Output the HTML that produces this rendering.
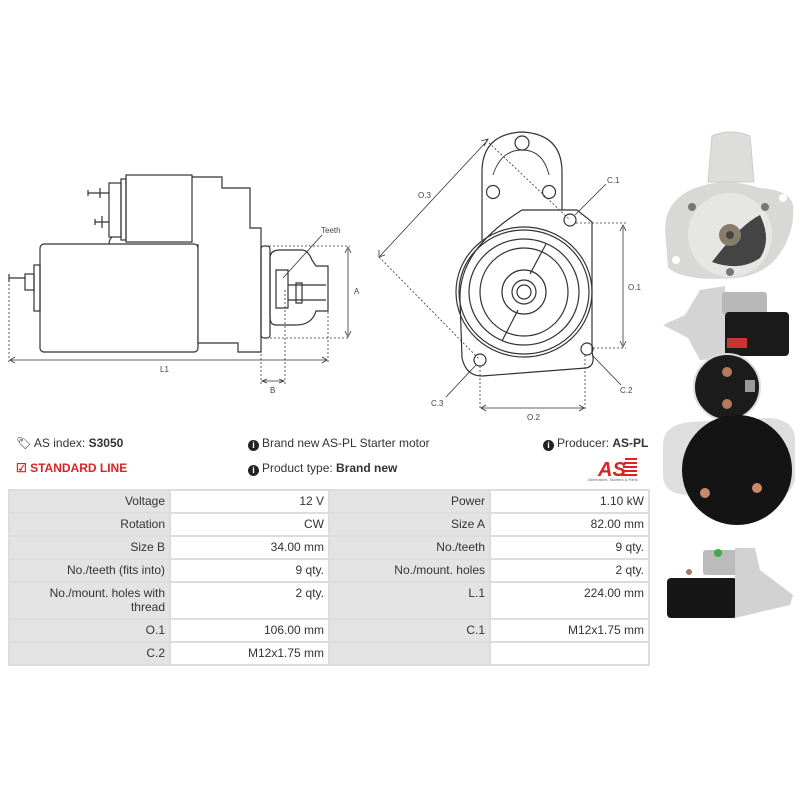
<!DOCTYPE html>
<html><head><style>
body{margin:0;background:#fff;width:800px;height:800px;overflow:hidden;position:relative;font-family:"Liberation Sans",sans-serif}
.t{position:absolute;font-size:12px;color:#333;white-space:nowrap}
.i{display:inline-block;width:11px;height:11px;border-radius:50%;background:#222;color:#fff;font-size:9px;font-weight:bold;text-align:center;line-height:11px;vertical-align:-1px;margin-right:3px}
table{position:absolute;left:8px;top:489px;border-collapse:collapse;font-size:12px;color:#333}
td{border:2px solid #ddd;text-align:right;padding:3px 4px 0 4px;vertical-align:top;height:18px;box-sizing:border-box}
td.l{background:#e3e3e3;width:161px}
td.v{background:#fff;width:159px}
</style></head><body>
<svg width="800" height="800" style="position:absolute;left:0;top:0" fill="none" stroke="#333" stroke-width="1.2" font-family="Liberation Sans" font-size="8">
<rect x="40" y="244" width="158" height="108" rx="4" fill="#fff"/>
<path d="M192 177 H222 V188 H250 V228 H261 V352 H238 V343 H198 V244" fill="#fff"/>
<rect x="126" y="175" width="66" height="67" fill="#fff"/>
<rect x="121" y="179" width="5" height="61"/>
<rect x="109" y="183" width="12" height="54"/>
<path d="M88 193 H109 M88 190 V196 M100 188 V198 M95 222 H109 M95 219 V225 M102 216 V228"/>
<path d="M112 237 q-3 3 -3 7"/>
<rect x="34" y="265" width="6" height="46"/>
<rect x="25" y="274" width="9" height="16"/>
<path d="M9 278 H25 M9 274 V282"/>
<rect x="261" y="246" width="9" height="92" rx="3"/>
<path d="M270 258 q0 -8 10 -8 h22 q6 0 10 10 l4 6 h12 v45 h-12 q-4 14 -20 14 h-20 q-6 0 -6 -8z"/>
<path d="M276 270 h12 v38 h-12z M288 285 h38 M288 300 h38 M296 283 h6 v20 h-6z"/>
<path stroke-dasharray="2,2" stroke-width="0.8" d="M265 246 H350 M270 338 H350 M9 284 V362 M328 312 V362 M261 338 V384 M285 290 V384"/>
<path stroke-width="0.8" d="M348 249 V335 M345 253 L348 247 L351 253 M345 331 L348 337 L351 331 M11 360 H326 M15 357 L10 360 L15 363 M322 357 L327 360 L322 363 M263 381 H283 M267 379 L262 381 L267 383 M279 379 L284 381 L279 383 M283 278 L322 235"/>
<g fill="#444" stroke="none" font-size="8"><text x="321" y="233">Teeth</text><text x="354" y="294">A</text><text x="160" y="372">L1</text><text x="270" y="393">B</text></g>
<path d="M482 240 V172 q0 -38 40 -40 q40 2 40 40 V215" fill="#fff"/>
<path d="M493 175 q8 -25 29 -25 q21 0 27 25" stroke-width="0.9"/>
<circle cx="522" cy="143" r="7"/><circle cx="493" cy="192" r="6.5"/><circle cx="549" cy="192" r="6.5"/>
<path d="M522 210 H577 L592 222 V352 Q596 366 586 368 L482 376 Q466 376 462 358 L460 300 Q458 250 522 210Z" fill="#fff"/>
<ellipse cx="524" cy="292" rx="68" ry="65"/>
<ellipse cx="524" cy="292" rx="65" ry="62"/>
<ellipse cx="524" cy="292" rx="55" ry="53"/>
<circle cx="524" cy="292" r="44"/>
<path d="M546 244 L530 274 M502 341 L518 310"/>
<circle cx="524" cy="292" r="22"/><circle cx="524" cy="292" r="12"/><circle cx="524" cy="292" r="7"/>
<circle cx="570" cy="220" r="6"/><circle cx="587" cy="349" r="6"/><circle cx="480" cy="360" r="6"/>
<path stroke-dasharray="2,2" stroke-width="0.8" d="M486 140 L570 220 M379 257 L480 360 M576 223 H626 M593 348 H626 M480 366 V410 M585 355 V410"/>
<path stroke-width="0.8" d="M487 141 L380 256 M484 146 L488 139 L481 141 M379 250 L379 257 L385 255 M623 227 V345 M620 231 L623 225 L626 231 M620 341 L623 347 L626 341 M482 408 H583 M486 405 L481 408 L486 411 M579 405 L584 408 L579 411 M575 215 L606 184 M592 355 L621 385 M476 365 L446 397"/>
<g fill="#444" stroke="none" font-size="8"><text x="607" y="183">C.1</text><text x="418" y="198">O.3</text><text x="628" y="290">O.1</text><text x="620" y="393">C.2</text><text x="431" y="406">C.3</text><text x="527" y="420">O.2</text></g>
<g stroke="none">
<path d="M708 182 L712 136 Q730 128 750 136 L754 182Z" fill="#dddddb" stroke="#ccc" stroke-width="1"/>
<path d="M665 230 Q665 195 705 185 Q730 178 760 188 Q790 190 793 205 Q795 225 785 245 Q770 275 735 278 Q685 282 668 268Z" fill="#d8d8d6"/>
<circle cx="730" cy="235" r="42" fill="#e6e6e4"/>
<path d="M712 262 Q740 225 760 215 Q772 240 760 258 Q740 272 712 262Z" fill="#444"/>
<circle cx="730" cy="235" r="11" fill="#8a7c6a"/><circle cx="730" cy="235" r="4" fill="#444"/>
<circle cx="692" cy="207" r="4" fill="#777"/><circle cx="765" cy="207" r="4" fill="#777"/><circle cx="730" cy="272" r="4" fill="#777"/>
<circle cx="676" cy="260" r="4" fill="#fff"/><circle cx="783" cy="198" r="4" fill="#fff"/>
<path d="M663 325 L685 315 L700 290 L725 286 L727 358 L700 360 L688 338 Z" fill="#d4d4d4"/>
<rect x="722" y="292" width="45" height="22" rx="3" fill="#b8b8b8"/>
<rect x="725" y="312" width="64" height="44" rx="4" fill="#1a1a1a"/>
<rect x="727" y="338" width="20" height="10" fill="#c33"/>
<path d="M663 445 Q663 425 690 422 L770 418 Q795 420 795 440 L795 480 Q790 500 770 495 L690 495 Q663 495 663 475Z" fill="#dedede"/>
<circle cx="727" cy="387" r="33" fill="#1c1c1c" stroke="#ddd" stroke-width="2"/>
<circle cx="737" cy="470" r="55" fill="#141414"/>
<circle cx="727" cy="372" r="5" fill="#b87a5a"/><circle cx="727" cy="404" r="5" fill="#b87a5a"/>
<rect x="745" y="380" width="10" height="12" fill="#999"/>
<circle cx="705" cy="493" r="5" fill="#c88a6a"/><circle cx="757" cy="488" r="5" fill="#c88a6a"/>
<rect x="703" y="550" width="40" height="25" rx="3" fill="#bbb"/>
<rect x="667" y="578" width="70" height="40" rx="4" fill="#161616"/>
<path d="M735 548 L755 548 L760 570 L793 595 L790 605 L760 612 L735 618Z" fill="#d2d2d2"/>
<circle cx="718" cy="553" r="4" fill="#4a4"/>
<circle cx="689" cy="572" r="3" fill="#a76"/>
</g>
<text x="598" y="476" font-size="20" font-weight="bold" font-style="italic" fill="#d22" stroke="none">AS</text>
<path d="M625 459 h12 M624 463 h13 M623 467 h14 M622 471 h15 M621 475 h16" stroke="#d22" stroke-width="2"/>
<text x="588" y="481" font-size="4" fill="#666" stroke="none">Alternators, Starters &amp; Parts</text>
</svg>
<div class="t" style="left:16px;top:436px"><span style="color:#222">&#x1F3F7;&#xFE0E;</span> AS index: <b>S3050</b></div>
<div class="t" style="left:16px;top:461px;color:#d22;font-weight:bold">&#x2611; STANDARD LINE</div>
<div class="t" style="left:248px;top:436px"><span class="i">i</span>Brand new AS-PL Starter motor</div>
<div class="t" style="left:248px;top:461px"><span class="i">i</span>Product type: <b>Brand new</b></div>
<div class="t" style="left:543px;top:436px"><span class="i">i</span>Producer: <b>AS-PL</b></div>
<table>
<tr style="height:23px"><td class="l">Voltage</td><td class="v">12 V</td><td class="l">Power</td><td class="v">1.10 kW</td></tr>
<tr style="height:23px"><td class="l">Rotation</td><td class="v">CW</td><td class="l">Size A</td><td class="v">82.00 mm</td></tr>
<tr style="height:23px"><td class="l">Size B</td><td class="v">34.00 mm</td><td class="l">No./teeth</td><td class="v">9 qty.</td></tr>
<tr style="height:23px"><td class="l">No./teeth (fits into)</td><td class="v">9 qty.</td><td class="l">No./mount. holes</td><td class="v">2 qty.</td></tr>
<tr style="height:37px"><td class="l">No./mount. holes with thread</td><td class="v">2 qty.</td><td class="l">L.1</td><td class="v">224.00 mm</td></tr>
<tr style="height:23px"><td class="l">O.1</td><td class="v">106.00 mm</td><td class="l">C.1</td><td class="v">M12x1.75 mm</td></tr>
<tr style="height:23px"><td class="l">C.2</td><td class="v">M12x1.75 mm</td><td class="l"></td><td class="v"></td></tr>
</table>
</body></html>
